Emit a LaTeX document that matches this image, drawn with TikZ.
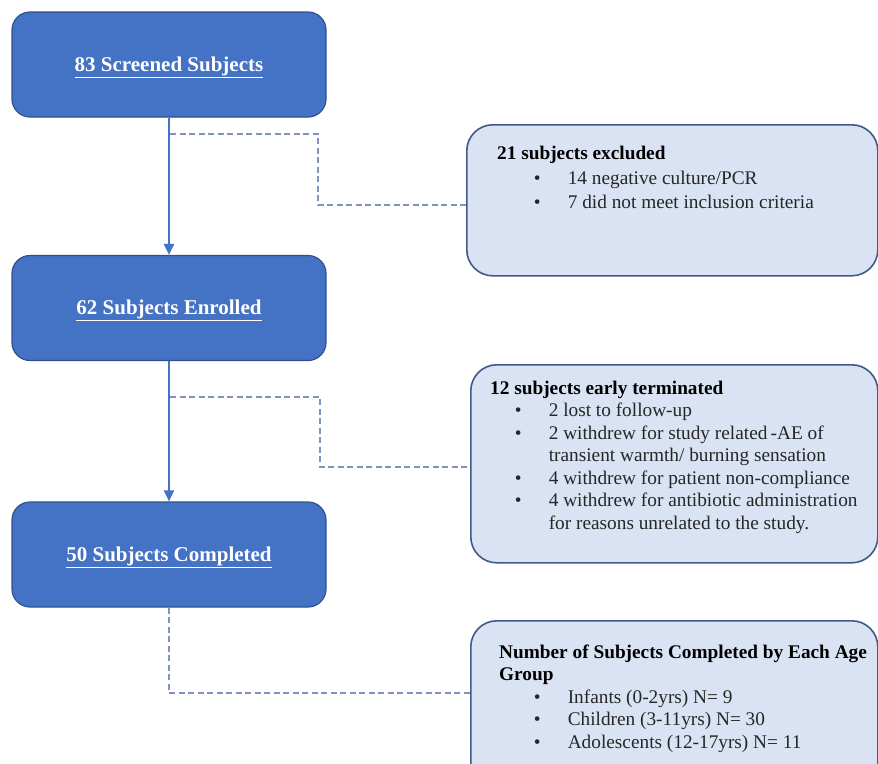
\documentclass[tikz,border=0pt]{standalone}
\usepackage{fontspec}
\setmainfont{Liberation Serif}
\usetikzlibrary{arrows.meta,calc}
\definecolor{boxblue}{HTML}{4472C4}
\definecolor{boxedge}{HTML}{2F528F}
\definecolor{lightfill}{HTML}{DAE3F3}
\definecolor{lightedge}{HTML}{41598B}
\definecolor{dashcol}{HTML}{7F93BE}
\definecolor{txt}{HTML}{262626}
\tikzset{
  mainbox/.style={draw=boxedge, line width=1.2pt, fill=boxblue, rounded corners=18pt,
    minimum width=314pt, minimum height=105pt, inner sep=0pt,
    text=white, font=\fontsize{21}{24}\selectfont\bfseries, text height=13pt, text depth=0pt},
  sidebox/.style={draw=lightedge, line width=1.6pt, fill=lightfill, rounded corners=26pt,
    inner sep=0pt, anchor=north west},
  linetxt/.style={anchor=base west, inner sep=0pt, text=txt, font=\fontsize{19.3}{22.5}\selectfont},
  headtxt/.style={anchor=base west, inner sep=0pt, text=black, font=\fontsize{19.3}{22.5}\selectfont\bfseries},
  flowarrow/.style={draw=boxblue, line width=2pt, -{Triangle[length=11pt,width=10pt]}},
  dashline/.style={draw=dashcol, line width=1.4pt, dash pattern=on 6pt off 3.5pt},
}
\newcommand{\bul}[1]{\makebox[34pt][l]{•}#1}
\begin{document}
\begin{tikzpicture}[x=1pt,y=-1pt]
\useasboundingbox (0,0) rectangle (878,763);
\clip (0,0) rectangle (878,763);
\fill[white] (0,0) rectangle (878,763);

% main boxes
\node[mainbox] (b1) at (169,64.5) {\underline{83 Screened Subjects}};
\node[mainbox] (b2) at (169,308) {\underline{62 Subjects Enrolled}};
\node[mainbox] (b3) at (169,554.5) {\underline{50 Subjects Completed}};

% side boxes
\node[sidebox, minimum width=411pt, minimum height=151pt] (e1) at (466,124) {};
\node[sidebox, minimum width=407pt, minimum height=198pt] (e2) at (470,364) {};
\node[sidebox, minimum width=407pt, minimum height=170pt] (e3) at (470,620) {};

% arrows
\draw[flowarrow] (b1.south) -- (b2.north);
\draw[flowarrow] (b2.south) -- (b3.north);

% dashed connectors
\coordinate (d1) at (170,134);
\coordinate (d2) at (170,397);
\coordinate (d3) at (169,693);
\draw[dashline] (d1) -- (318,134) |- ([yshift=-4.5pt]e1.west);
\draw[dashline] (d2) -- (320,397) |- ([yshift=-3pt]e2.west);
\draw[dashline] (b3.south) -- (d3) -- (d3 -| e3.west);

% texts box 1
\node[headtxt] (h1) at (497,159) {21 subjects excluded};
\node[linetxt] (l11) at (533.6,184) {\bul{14 negative culture/PCR}};
\node[linetxt] (l12) at (533.6,208.5) {\bul{7 did not meet inclusion criteria}};

% texts box 2
\node[headtxt] (h2) at (490,394) {12 subjects early terminated};
\node[linetxt] (l21) at (514.6,416.5) {\bul{2 lost to follow-up}};
\node[linetxt] (l22) at (514.6,439) {\bul{2 withdrew for study related\,-AE of}};
\node[linetxt] (l23) at (548.6,461.5) {transient warmth/ burning sensation};
\node[linetxt] (l24) at (514.6,484) {\bul{4 withdrew for patient non-compliance}};
\node[linetxt] (l25) at (514.6,506.5) {\bul{4 withdrew for antibiotic administration}};
\node[linetxt] (l26) at (548.6,529) {for reasons unrelated to the study.};

% texts box 3
\node[headtxt] (h3a) at (499,658) {Number of Subjects Completed by Each Age};
\node[headtxt] (h3b) at (499,680.5) {Group};
\node[linetxt] (l31) at (533.6,703) {\bul{Infants (0-2yrs) N= 9}};
\node[linetxt] (l32) at (533.6,725.5) {\bul{Children (3-11yrs) N= 30}};
\node[linetxt] (l33) at (533.6,748) {\bul{Adolescents (12-17yrs) N= 11}};
\end{tikzpicture}
\end{document}
